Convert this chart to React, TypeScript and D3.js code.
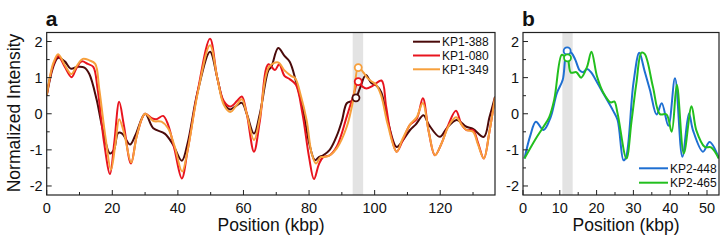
import React from "react";
import * as d3 from "d3";

// Panel a data (Position kbp, Normalized Intensity)
const kp1_388_x = [0,2,3.5,5.5,7.3,9.5,11.5,13,15.2,17,19.3,20.5,21.8,23,25.4,27,30,32.5,36,38.5,41.2,43,46,49.8,52,54,55.9,57.5,59.5,61,63.2,65,67.6,68.5,70.6,72.5,74.1,76,78.2,80,81.8,83,84.3,86.3,88.5,90,91.5,93,94.3,95.5,97.3,99,100.5,102,104,106.7,108.5,110.8,112.5,114.9,116.5,119.9,122,125,128,130,133.3,135,136.7];
const kp1_388_y = [0.5,1.3,1.55,1.45,1.25,1.3,1.28,1.1,0.4,-0.4,-1.1,-1.0,-0.53,-0.55,-0.85,-0.6,0.0,-0.4,-0.55,-0.85,-1.3,-0.8,0.6,1.72,1.0,0.3,0.12,0.2,0.3,0.0,-0.55,0.0,1.2,1.3,1.82,1.6,1.44,0.9,0.1,-0.8,-1.29,-1.2,-1.15,-1.0,-0.6,-0.2,0.29,0.35,0.44,0.7,1.07,0.85,0.78,0.6,-0.2,-0.92,-0.75,-0.45,-0.3,-0.04,-0.3,-0.64,-0.4,-0.17,-0.36,-0.42,-0.64,-0.1,0.47];

const kp1_080_x = [0,2,3.5,5.5,7.6,9,10.7,12.5,14.2,15.5,17.5,19.3,20.6,22.1,23.5,25.7,27.5,30,32,33.5,35.5,37,39,41.2,43,46,49.8,52,54,56,58,59.5,61,63.2,65,67.6,69.6,70.9,72.5,74.1,76,78,80,81.5,83,84.3,86.3,88.5,91.5,93.5,95,96.3,97.5,99.5,102.1,103.5,105,106.7,108.5,110.8,112.8,114.7,116.5,118.4,120.5,122.5,124.8,126.5,128,130,131.5,133.3,135,136.7];
const kp1_080_y = [0.5,1.35,1.6,1.3,1.01,1.25,1.45,1.38,1.3,0.7,-0.8,-1.67,-0.8,0.33,-0.3,-1.38,-0.6,0.0,-0.12,-0.15,-0.06,-0.3,-1.0,-1.79,-1.0,0.6,2.08,1.0,0.35,0.2,0.35,0.48,0.0,-1.05,-0.2,1.37,1.21,1.37,1.05,0.96,0.8,0.0,-1.2,-1.81,-1.4,-1.2,-1.15,-0.9,-0.08,0.5,0.89,0.75,0.7,0.78,0.92,0.2,-0.6,-1.05,-0.75,-0.3,-0.15,0.43,-0.5,-1.15,-0.8,-0.3,0.08,-0.3,-0.45,-0.45,-0.8,-1.24,-0.5,0.45];

const kp1_349_x = [0,2,3.5,5.5,7.5,9,11,13,14.8,16,18,19.6,21,22.1,23.5,25.8,27.5,30,32.5,35,37,39,41.3,43,46,49.8,52,54,56,58,59.5,61,63.2,65,67.8,70.6,72.5,74.5,75.8,77.5,79.3,80.8,82.1,83.5,84.3,86.3,88.5,91.5,93.5,95,96.5,97.7,99,100.5,102,104,106.7,108.5,110.8,112.8,114.7,116.5,118.4,120.5,122.5,124.8,126.5,128,130,131.5,133.3,135,136.7];
const kp1_349_y = [0.5,1.4,1.65,1.35,1.1,1.3,1.52,1.48,1.38,0.7,-0.7,-1.55,-0.8,-0.15,-0.5,-1.35,-0.6,0.0,-0.2,-0.22,-0.4,-0.9,-1.6,-1.0,0.55,1.9,1.0,0.25,0.05,0.25,0.4,0.0,-0.73,-0.1,1.3,1.42,1.2,1.05,0.98,0.5,-0.2,-1.1,-1.38,-1.2,-1.2,-1.15,-0.95,-0.36,0.4,1.28,1.15,1.0,0.9,0.8,0.5,-0.3,-1.05,-0.7,-0.3,-0.1,0.3,-0.5,-1.15,-0.8,-0.35,-0.1,-0.3,-0.45,-0.5,-0.85,-1.24,-0.5,0.45];

// Panel b data
const kp2_448_x = [0.4,2,3.5,5.6,7.5,9.2,10.8,12,13.2,14.2,15.4,16.3,17.4,18.5,19.7,22,24.4,25.7,27.3,28,30,31.6,33,34.5,36.3,37.7,39.5,41.3,43.3,45.1,46.2,48.9,50.7,53.2];
const kp2_448_y = [-1.24,-0.6,-0.22,-0.45,-0.1,0.57,0.94,1.74,1.68,1.5,1.2,1.15,1.24,1.15,0.95,0.53,0.1,-0.17,-1.29,-1.2,0.84,1.69,1.2,0.66,-0.02,0.29,-0.33,0.98,-1.19,0.01,-0.46,-1.05,-0.78,-1.22];

const kp2_465_x = [0.4,3.3,5.3,7.1,8.5,10.5,11.2,12.1,13,14.5,15.8,17.4,18.6,20.1,21.9,23.9,24.8,25.7,28.1,29.5,30.8,32.2,33.1,35.3,37.2,39,40.4,41.8,43.7,45.8,47.1,49.4,51.1,53.2];
const kp2_465_y = [-1.24,-0.72,-0.4,-0.1,0.4,1.63,1.6,1.55,1.14,1.15,1.0,1.3,1.72,1.04,0.57,0.31,0.34,0.01,-1.24,-0.2,0.84,1.69,1.65,0.75,-0.01,-0.02,-0.5,0.8,-1.1,0.21,-0.46,-0.92,-0.93,-1.24];

const seriesA = [
  { name: "KP1-388", xs: kp1_388_x, ys: kp1_388_y, color: "#4a0a0a", marker: [94.3, 0.44] },
  { name: "KP1-080", xs: kp1_080_x, ys: kp1_080_y, color: "#e8141e", marker: [95, 0.89] },
  { name: "KP1-349", xs: kp1_349_x, ys: kp1_349_y, color: "#f7a03c", marker: [95, 1.28] },
];
const seriesB = [
  { name: "KP2-448", xs: kp2_448_x, ys: kp2_448_y, color: "#1e6fd2", marker: [12, 1.74] },
  { name: "KP2-465", xs: kp2_465_x, ys: kp2_465_y, color: "#22bf1e", marker: [12.1, 1.55] },
];

const yMajor = [-2, -1, 0, 1, 2];
const yMinor = [-1.5, -0.5, 0.5, 1.5];
const xMajorA = [0, 20, 40, 60, 80, 100, 120];
const xMinorA = [10, 30, 50, 70, 90, 110, 130];
const xMajorB = [0, 10, 20, 30, 40, 50];
const xMinorB = [5, 15, 25, 35, 45];
const bandA = [93.3, 96.5];
const bandB = [10.7, 13.5];

const FONT = "'Liberation Sans', Arial, sans-serif";

type S = { name: string; xs: number[]; ys: number[]; color: string; marker: number[] };

function Panel(props: {
  left: number; right: number; top: number; bottom: number;
  xDomain: [number, number]; series: S[]; xMajor: number[]; xMinor: number[];
  band: number[]; label: string; legend: { x1: number; x2: number; y0: number; dy: number };
  xLabelX: number;
}) {
  const { left, right, top, bottom, xDomain, series, xMajor, xMinor, band, label, legend, xLabelX } = props;
  const x = d3.scaleLinear().domain(xDomain).range([left, right]);
  const y = d3.scaleLinear().domain([-2.25, 2.25]).range([bottom, top]);
  const line = d3.line<[number, number]>().x(d => x(d[0])).y(d => y(d[1])).curve(d3.curveCatmullRom.alpha(0.5));
  const clipId = "clip-" + label;
  return (
    <g>
      <defs>
        <clipPath id={clipId}><rect x={left} y={top} width={right - left} height={bottom - top} /></clipPath>
      </defs>
      <rect x={x(band[0])} y={top} width={x(band[1]) - x(band[0])} height={bottom - top} fill="#e3e3e3" />
      <g clipPath={`url(#${clipId})`}>
        {series.map(s => (
          <path key={s.name} d={line(s.xs.map((v, i) => [v, s.ys[i]] as [number, number])) || ""}
            fill="none" stroke={s.color} strokeWidth={2} strokeLinejoin="round" />
        ))}
      </g>
      {series.map(s => (
        <circle key={s.name + "m"} cx={x(s.marker[0])} cy={y(s.marker[1])} r={3.5} fill="white" stroke={s.color} strokeWidth={1.8} />
      ))}
      <rect x={left} y={top} width={right - left} height={bottom - top} fill="none" stroke="#222" strokeWidth={1.2} />
      {yMajor.map(v => (
        <g key={"ym" + v}>
          <line x1={left} x2={left + 5} y1={y(v)} y2={y(v)} stroke="#222" strokeWidth={1} />
          <text x={left - 4} y={y(v)} dy="0.36em" textAnchor="end" fontSize={14.5} fontFamily={FONT} fill="#111">{v < 0 ? "-" + Math.abs(v) : v}</text>
        </g>
      ))}
      {yMinor.map(v => (
        <line key={"yn" + v} x1={left} x2={left + 3} y1={y(v)} y2={y(v)} stroke="#222" strokeWidth={1} />
      ))}
      {xMajor.map(v => (
        <g key={"xm" + v}>
          <line x1={x(v)} x2={x(v)} y1={bottom} y2={bottom - 5} stroke="#222" strokeWidth={1} />
          <text x={x(v)} y={bottom + 18} textAnchor="middle" fontSize={14.5} fontFamily={FONT} fill="#111">{v}</text>
        </g>
      ))}
      {xMinor.map(v => (
        <line key={"xn" + v} x1={x(v)} x2={x(v)} y1={bottom} y2={bottom - 3} stroke="#222" strokeWidth={1} />
      ))}
      <text x={xLabelX} y={231} textAnchor="middle" fontSize={17.5} fontFamily={FONT} fill="#111">Position (kbp)</text>
      <text x={left - 1} y={26} fontSize={21} fontWeight="bold" fontFamily={FONT} fill="#111">{label}</text>
      {series.map((s, i) => (
        <g key={s.name + "l"}>
          <line x1={legend.x1} x2={legend.x2} y1={legend.y0 + i * legend.dy} y2={legend.y0 + i * legend.dy} stroke={s.color} strokeWidth={2} />
          <text x={legend.x2 + 2} y={legend.y0 + i * legend.dy} dy="0.36em" fontSize={12} fontFamily={FONT} fill="#111">{s.name}</text>
        </g>
      ))}
    </g>
  );
}

export default function App() {
  return (
    <svg width={723} height={240} style={{ position: "absolute", left: 0, top: 0, background: "white" }}>
      <text transform="translate(19.5,113) rotate(-90)" textAnchor="middle" fontSize={17.5} fontFamily={FONT} fill="#111">Normalized Intensity</text>
      <Panel left={46.7} right={495} top={32.5} bottom={195} xDomain={[0, 136.7]} series={seriesA}
        xMajor={xMajorA} xMinor={xMinorA} band={bandA} label="a"
        legend={{ x1: 413, x2: 440, y0: 41.7, dy: 13.8 }} xLabelX={271} />
      <Panel left={523} right={719} top={32.5} bottom={195} xDomain={[0, 53.26]} series={seriesB}
        xMajor={xMajorB} xMinor={xMinorB} band={bandB} label="b"
        legend={{ x1: 639, x2: 668, y0: 168.3, dy: 14.4 }} xLabelX={626} />
    </svg>
  );
}
